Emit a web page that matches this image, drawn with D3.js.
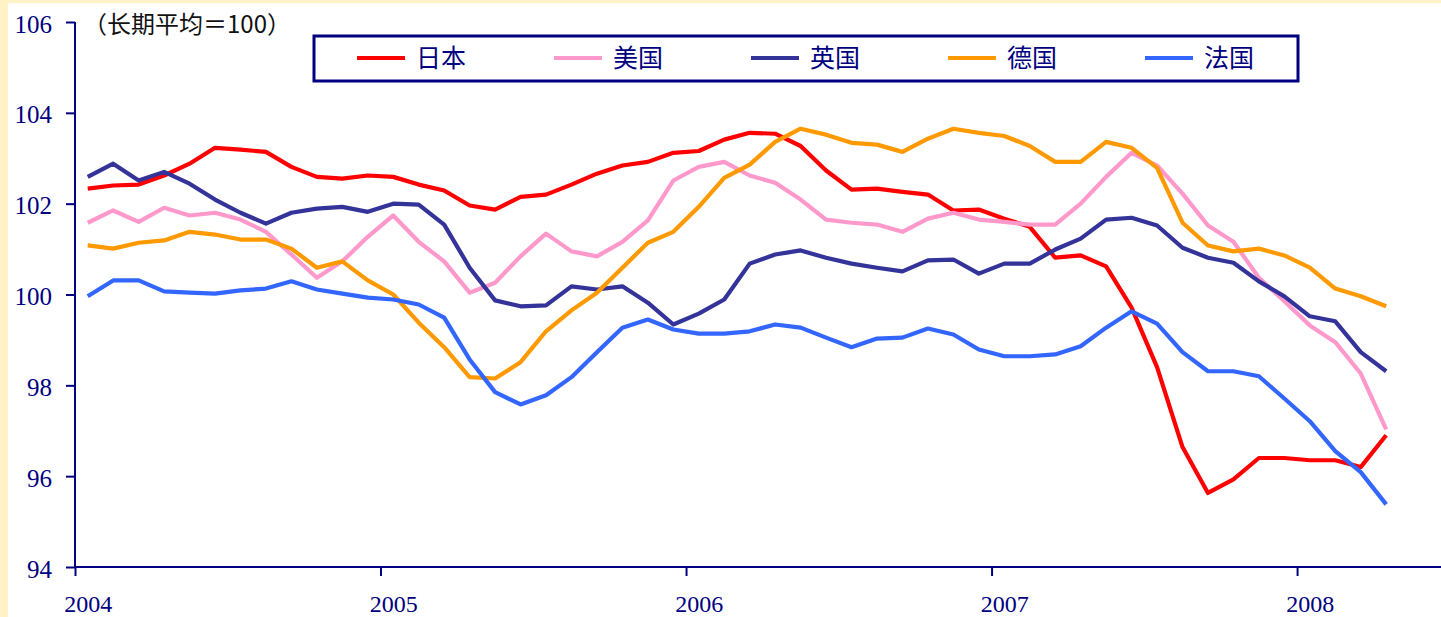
<!DOCTYPE html>
<html>
<head>
<meta charset="utf-8">
<script src="https://cdn.jsdelivr.net/npm/d3@7"></script>
<style>
  html, body { margin: 0; padding: 0; background: #fff3c6; }
  svg { display: block; }
</style>
</head>
<body>
<div class="chart"></div>
<script>
// monthly, Jan 2004 .. Apr 2008
const years = [2004, 2005, 2006, 2007, 2008];
const yTicks = [94, 96, 98, 100, 102, 104, 106];
const seriesNames = ['日本', '美国', '英国', '德国', '法国'];
const seriesColors = ['#ff0000', '#ff99cc', '#333399', '#ff9900', '#3366ff'];

const japan = [102.33, 102.40, 102.42, 102.62, 102.88, 103.23, 103.19, 103.14, 102.81, 102.59, 102.55, 102.62,
  102.59, 102.42, 102.29, 101.96, 101.87, 102.15, 102.20, 102.42, 102.66, 102.84, 102.92, 103.12,
  103.16, 103.41, 103.56, 103.54, 103.27, 102.73, 102.31, 102.33, 102.26, 102.20, 101.85, 101.87,
  101.67, 101.49, 100.81, 100.86, 100.62, 99.71, 98.40, 96.64, 95.63, 95.93, 96.40, 96.40,
  96.35, 96.35, 96.20, 96.90];
const usa = [101.58, 101.85, 101.60, 101.91, 101.74, 101.80, 101.65, 101.38, 100.88, 100.37, 100.73, 101.27,
  101.74, 101.16, 100.73, 100.04, 100.26, 100.84, 101.34, 100.95, 100.84, 101.16, 101.63, 102.51,
  102.81, 102.92, 102.62, 102.46, 102.09, 101.65, 101.58, 101.54, 101.38, 101.67, 101.80, 101.65,
  101.60, 101.54, 101.54, 102.00, 102.59, 103.12, 102.84, 102.22, 101.52, 101.16, 100.37, 99.85,
  99.32, 98.95, 98.26, 97.03];
const uk = [102.59, 102.88, 102.51, 102.70, 102.44, 102.09, 101.80, 101.56, 101.80, 101.89, 101.93, 101.82,
  102.00, 101.98, 101.54, 100.59, 99.87, 99.74, 99.76, 100.18, 100.11, 100.18, 99.82, 99.34,
  99.58, 99.89, 100.68, 100.88, 100.97, 100.81, 100.68, 100.59, 100.51, 100.75, 100.77, 100.46,
  100.68, 100.68, 100.99, 101.23, 101.65, 101.69, 101.52, 101.03, 100.81, 100.70, 100.29, 99.96,
  99.52, 99.41, 98.73, 98.31];
const germany = [101.08, 101.01, 101.14, 101.19, 101.38, 101.32, 101.21, 101.21, 101.01, 100.59, 100.73, 100.31,
  100.00, 99.38, 98.84, 98.18, 98.15, 98.51, 99.19, 99.65, 100.04, 100.59, 101.14, 101.38,
  101.93, 102.57, 102.86, 103.36, 103.65, 103.52, 103.34, 103.30, 103.14, 103.43, 103.65, 103.56,
  103.49, 103.27, 102.92, 102.92, 103.36, 103.23, 102.79, 101.58, 101.08, 100.95, 101.01, 100.86,
  100.59, 100.13, 99.96, 99.74];
const france = [99.96, 100.31, 100.31, 100.07, 100.04, 100.02, 100.09, 100.13, 100.29, 100.11, 100.02, 99.93,
  99.89, 99.78, 99.49, 98.57, 97.85, 97.58, 97.78, 98.18, 98.73, 99.27, 99.45, 99.23,
  99.14, 99.14, 99.19, 99.34, 99.27, 99.05, 98.84, 99.03, 99.05, 99.25, 99.12, 98.79,
  98.64, 98.64, 98.68, 98.86, 99.27, 99.63, 99.36, 98.73, 98.31, 98.31, 98.20, 97.71,
  97.21, 96.55, 96.09, 95.38];
const allSeries = [japan, usa, uk, germany, france];

const W = 1441, H = 617;
const plotLeft = 75, plotTop = 22, plotBottom = 567;
const navy = '#000080';
const serif = '"Liberation Serif", "DejaVu Serif", serif';

const svg = d3.select('.chart').append('svg').attr('width', W).attr('height', H);

svg.append('rect').attr('x', 8).attr('y', 3).attr('width', W - 8).attr('height', H - 3).attr('fill', '#fff');

// month index scale: 0 = start of Jan 2004
const x = d3.scaleLinear().domain([0, (W - plotLeft) / 25.46]).range([plotLeft, W]);
const y = d3.scaleLinear().domain([94, 106]).range([plotBottom, plotTop]);

const yAxis = d3.axisLeft(y).tickValues(yTicks).tickSize(9).tickSizeOuter(0).tickPadding(14);
const gy = svg.append('g').attr('transform', `translate(${plotLeft},0)`).call(yAxis);
gy.select('.domain').attr('stroke', navy).attr('stroke-width', 2).attr('d', `M0,${plotTop}V${plotBottom}`);
gy.selectAll('.tick line').attr('stroke', navy).attr('stroke-width', 2);
gy.selectAll('.tick text')
  .attr('fill', navy)
  .attr('dy', '0.4em')
  .style('font-family', serif)
  .style('font-size', '25px');

const xAxis = d3.axisBottom(x).tickValues(years.map((d, i) => i * 12)).tickSize(9).tickSizeOuter(0)
  .tickFormat((d, i) => years[i]);
const gx = svg.append('g').attr('transform', `translate(0,${plotBottom})`).call(xAxis);
gx.select('.domain').attr('stroke', navy).attr('stroke-width', 2).attr('d', `M${plotLeft},0H${W}`);
gx.selectAll('.tick line').attr('stroke', navy).attr('stroke-width', 2);
gx.selectAll('.tick text')
  .attr('fill', navy)
  .attr('x', x(0.5) - x(0))
  .attr('y', 28)
  .style('font-family', serif)
  .style('font-size', '24px');

const line = d3.line()
  .x((d, i) => x(i + 0.5))
  .y((d) => y(d));

svg.append('g')
  .selectAll('path')
  .data(allSeries)
  .enter()
  .append('path')
  .attr('d', line)
  .attr('fill', 'none')
  .attr('stroke', (d, i) => seriesColors[i])
  .attr('stroke-width', 4.2)
  .attr('stroke-linejoin', 'round');

svg.append('text')
  .attr('x', 83)
  .attr('y', 33)
  .attr('fill', '#111')
  .style('font-family', '"Noto Sans CJK SC", sans-serif')
  .style('font-size', '24px')
  .text('（长期平均＝100）');

// legend
const legend = svg.append('g');
legend.append('rect')
  .attr('x', 314).attr('y', 36).attr('width', 984).attr('height', 45)
  .attr('fill', '#fff').attr('stroke', navy).attr('stroke-width', 3);

const item = legend.selectAll('g.item')
  .data(seriesNames)
  .enter()
  .append('g')
  .attr('class', 'item')
  .attr('transform', (d, i) => `translate(${357 + i * 197},58)`);
item.append('line')
  .attr('x1', 0).attr('x2', 48)
  .attr('stroke', (d, i) => seriesColors[i])
  .attr('stroke-width', 4.2);
item.append('text')
  .attr('x', 59).attr('y', 9)
  .attr('fill', navy)
  .style('font-family', '"Noto Sans CJK SC", sans-serif')
  .style('font-size', '25px')
  .text((d) => d);
</script>
</body>
</html>
